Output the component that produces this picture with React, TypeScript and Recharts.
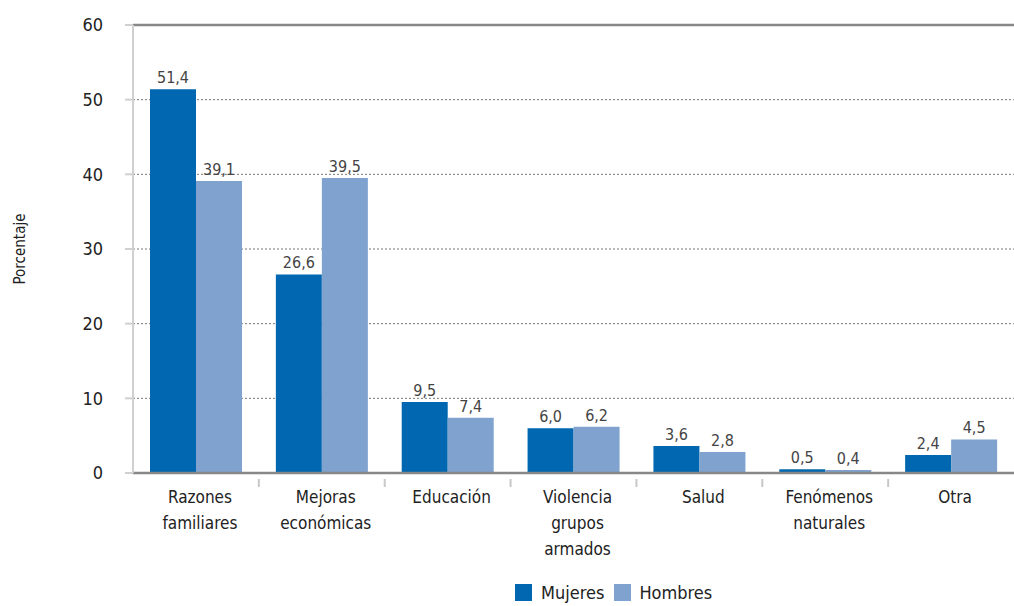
import React from "react";
import { BarChart, Bar, XAxis, YAxis, CartesianGrid, LabelList, ReferenceLine } from "recharts";

const CATEGORIES = [
  "Razones\nfamiliares",
  "Mejoras\neconómicas",
  "Educación",
  "Violencia\ngrupos\narmados",
  "Salud",
  "Fenómenos\nnaturales",
  "Otra",
];
const MUJERES = [51.4, 26.6, 9.5, 6.0, 3.6, 0.5, 2.4];
const HOMBRES = [39.1, 39.5, 7.4, 6.2, 2.8, 0.4, 4.5];
const Y_TICKS = [0, 10, 20, 30, 40, 50, 60];
const SERIES_NAMES = ["Mujeres", "Hombres"];

const C_MUJ = "#0067B0";
const C_HOM = "#7FA2CF";
const FONT = "'DejaVu Sans Condensed', 'Roboto', sans-serif";

const W = 1014;
const H = 606;
const M_LEFT = 0;
const Y_W = 133;
const M_RIGHT = 0;
const PLOT_W = W - M_LEFT - Y_W - M_RIGHT;

const data = CATEGORIES.map((c, i) => ({ cat: c, m: MUJERES[i], h: HOMBRES[i] }));

const fmt = (v: number) => v.toFixed(1).replace(".", ",");

const XTick = (props: any) => {
  const { x, y, payload, index } = props;
  const lines = String(payload.value).split("\n");
  const band = PLOT_W / CATEGORIES.length;
  return (
    <g>
      {index > 0 && (
        <line x1={x - band / 2} x2={x - band / 2} y1={y + 4} y2={y + 12} stroke="#c8c8c8" strokeWidth={2} />
      )}
      <text x={x + 4} y={y + 28} textAnchor="middle" fontFamily={FONT} fontSize={17} fill="#222">
        {lines.map((l, i) => (
          <tspan key={i} x={x + 4} dy={i === 0 ? 0 : 26}>
            {l}
          </tspan>
        ))}
      </text>
    </g>
  );
};

const labelStyle = { fontFamily: FONT, fontSize: 16, fill: "#444" };

export default function App() {
  return (
    <div style={{ position: "absolute", left: 0, top: 0, width: W, height: H, background: "#fff" }}>
      <BarChart
        width={W}
        height={H}
        data={data}
        margin={{ top: 25, right: M_RIGHT, left: M_LEFT, bottom: 0 }}
        barGap={0}
        barSize={46}
      >
        <CartesianGrid vertical={false} stroke="#777" strokeDasharray="2 2" />
        <XAxis
          dataKey="cat"
          height={133}
          interval={0}
          tick={<XTick />}
          tickLine={false}
          tickSize={0}
          axisLine={{ stroke: "#888", strokeWidth: 2.5 }}
        />
        <YAxis
          width={Y_W}
          domain={[0, 60]}
          ticks={Y_TICKS}
          interval={0}
          tickSize={8}
          tickMargin={22}
          axisLine={{ stroke: "#d0d0d0", strokeWidth: 2 }}
          tickLine={{ stroke: "#d0d0d0", strokeWidth: 2 }}
          tick={{ fontFamily: FONT, fontSize: 18, fill: "#222" }}
          label={{
            value: "Porcentaje",
            angle: -90,
            position: "insideLeft",
            offset: 20,
            style: { fontFamily: FONT, fontSize: 15, fill: "#222", textAnchor: "middle" },
          }}
        />
        <ReferenceLine y={60} stroke="#888" strokeWidth={2.5} />
        <Bar dataKey="m" name={SERIES_NAMES[0]} fill={C_MUJ} isAnimationActive={false}>
          <LabelList dataKey="m" position="top" offset={6} formatter={(v: any) => fmt(Number(v))} style={labelStyle} />
        </Bar>
        <Bar dataKey="h" name={SERIES_NAMES[1]} fill={C_HOM} isAnimationActive={false}>
          <LabelList dataKey="h" position="top" offset={6} formatter={(v: any) => fmt(Number(v))} style={labelStyle} />
        </Bar>
      </BarChart>
      <div
        style={{
          position: "absolute",
          left: 515,
          top: 582,
          display: "flex",
          alignItems: "center",
          fontFamily: FONT,
          fontSize: 18,
          color: "#222",
        }}
      >
        <span style={{ display: "inline-block", width: 17, height: 17, background: C_MUJ, marginRight: 9 }} />
        <span style={{ marginRight: 10 }}>{SERIES_NAMES[0]}</span>
        <span style={{ display: "inline-block", width: 17, height: 17, background: C_HOM, marginRight: 8 }} />
        <span>{SERIES_NAMES[1]}</span>
      </div>
    </div>
  );
}
